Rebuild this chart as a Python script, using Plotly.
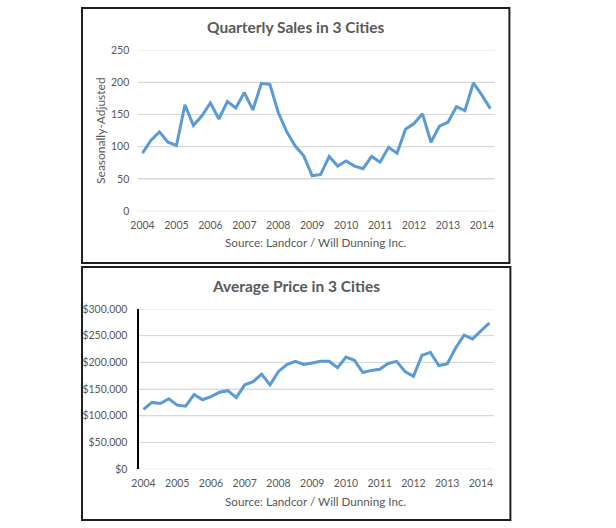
import plotly.graph_objects as go

# Quarterly data, 2004 Q1 .. 2014 Q2
years = list(range(2004, 2015))
quarters = [2004 + i / 4 for i in range(42)]

sales = [90, 110, 123, 107, 102, 165, 133, 148, 168, 143,
         170, 160, 184, 157, 198, 197, 153, 123, 101, 86,
         55, 57, 85, 70, 78, 70, 66, 85, 76, 99,
         90, 127, 136, 151, 107, 132, 138, 162, 156, 199,
         180, 159]

price = [112000, 125000, 123000, 132000, 120000, 118000, 140000, 130000, 136000, 144000,
         147000, 134000, 158000, 164000, 178000, 158000, 183000, 196000, 202000, 196000,
         199000, 202000, 202000, 190000, 210000, 204000, 181000, 185000, 187000, 198000,
         202000, 183000, 174000, 213000, 219000, 194000, 197000, 227000, 251000, 244000,
         259000, 274000]

sales_ticks = [0, 50, 100, 150, 200, 250]
price_ticks = [0, 50000, 100000, 150000, 200000, 250000, 300000]
price_ticktext = ["${:,}".format(v) for v in price_ticks]

W, H = 616, 528
FONT = "Lato"
GRAY = "#595959"
BLUE = "#5B9BD5"
GRID = "#D9D9D9"

def px(x):
    return x / W

def py(y):
    return 1 - y / H

fig = go.Figure()
fig.add_trace(go.Scatter(x=quarters, y=sales, mode="lines",
                         line=dict(color=BLUE, width=3), xaxis="x", yaxis="y",
                         showlegend=False, hoverinfo="skip"))
fig.add_trace(go.Scatter(x=quarters, y=price, mode="lines",
                         line=dict(color=BLUE, width=3), xaxis="x2", yaxis="y2",
                         showlegend=False, hoverinfo="skip"))

xrange = [2004 - 0.125, 2014.25 + 0.125]
tickfont = dict(family=FONT, size=10.5, color=GRAY)

fig.update_layout(
    width=W, height=H,
    margin=dict(l=0, r=0, t=0, b=0),
    paper_bgcolor="white", plot_bgcolor="white",
    showlegend=False,
)

fig.update_layout(
    xaxis=dict(domain=[px(132), px(493)], anchor="y"),
    yaxis=dict(domain=[py(210), py(45)], anchor="x"),
    xaxis2=dict(domain=[px(133), px(492)], anchor="y2"),
    yaxis2=dict(domain=[py(474), py(310)], anchor="x2"),
)

for ax in ("xaxis", "xaxis2"):
    fig.layout[ax].update(range=xrange, tickmode="array", tickvals=years,
                          ticktext=[str(y) for y in years],
                          showgrid=False, zeroline=False, showline=False, ticks="",
                          tickfont=tickfont, ticklabelstandoff=6, fixedrange=True)

fig.layout.yaxis.update(range=[0, 250], tickmode="array", tickvals=sales_ticks,
                        ticktext=[str(v) for v in sales_ticks])
fig.layout.yaxis2.update(range=[0, 300000], tickmode="array", tickvals=price_ticks,
                         ticktext=price_ticktext, showline=True,
                         linecolor="#000000", linewidth=1.5)
for ax in ("yaxis", "yaxis2"):
    fig.layout[ax].update(showgrid=True, gridcolor=GRID, gridwidth=1,
                          zeroline=False, ticks="", tickfont=tickfont,
                          ticklabelstandoff=8, fixedrange=True)

# horizontal gridlines placed through each axis' own scale
for ticks, xref, yref in [(sales_ticks, "x domain", "y"), (price_ticks, "x2 domain", "y2")]:
    for v in ticks:
        fig.add_shape(type="line", xref=xref, yref=yref, x0=0, x1=1, y0=v, y1=v,
                      layer="below", line=dict(color=GRID, width=1))

# chart borders
for (x0, y0, x1, y1) in [(75, 2, 508, 263), (75, 267, 509, 526)]:
    fig.add_shape(type="rect", xref="paper", yref="paper",
                  x0=px(x0), x1=px(x1), y0=py(y1), y1=py(y0),
                  line=dict(color="#1f1f1f", width=2), fillcolor="rgba(0,0,0,0)")

titlefont = dict(family=FONT, size=15.5, color=GRAY)
fig.add_annotation(text="<b>Quarterly Sales in 3 Cities</b>", x=px(292), y=py(21),
                   xref="paper", yref="paper", showarrow=False, font=titlefont,
                   xanchor="center", yanchor="middle")
fig.add_annotation(text="<b>Average Price in 3 Cities</b>", x=px(292), y=py(286),
                   xref="paper", yref="paper", showarrow=False, font=titlefont,
                   xanchor="center", yanchor="middle")

srcfont = dict(family=FONT, size=11.7, color=GRAY)
fig.add_annotation(text="Source: Landcor / Will Dunning Inc.", x=px(312), y=py(242),
                   xref="paper", yref="paper", showarrow=False, font=srcfont,
                   xanchor="center", yanchor="middle")
fig.add_annotation(text="Source: Landcor / Will Dunning Inc.", x=px(312), y=py(507),
                   xref="paper", yref="paper", showarrow=False, font=srcfont,
                   xanchor="center", yanchor="middle")
fig.add_annotation(text="Seasonally-Adjusted", x=px(93), y=py(127),
                   xref="paper", yref="paper", showarrow=False,
                   font=dict(family=FONT, size=12, color=GRAY),
                   textangle=-90, xanchor="center", yanchor="middle")

fig.write_html("out.html")
